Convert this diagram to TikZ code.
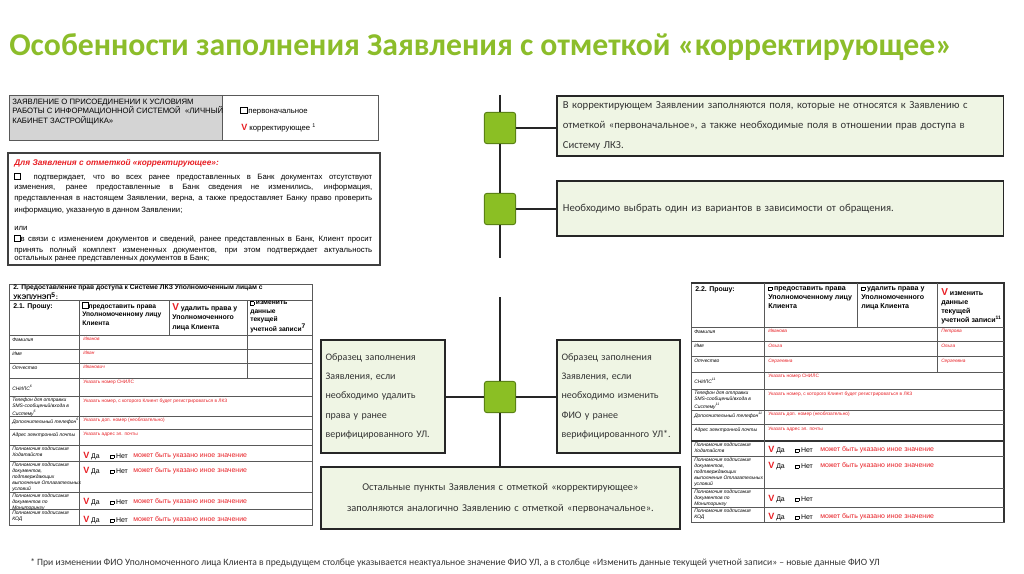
\documentclass[tikz,border=0pt]{standalone}
\usepackage{fontspec}
\setmainfont{Carlito}
\newfontfamily\formfont{Liberation Sans}
\usepackage{tikz}
\usetikzlibrary{positioning}
\definecolor{titlegreen}{RGB}{140,189,42}
\definecolor{squaregreen}{RGB}{139,191,36}
\definecolor{squareedge}{RGB}{90,130,20}
\definecolor{notefill}{RGB}{239,245,228}
\definecolor{formred}{RGB}{232,30,36}
\definecolor{formgrey}{RGB}{212,212,212}

\newcommand{\jline}[2]{\makebox[#1][s]{#2}}
\newcommand{\chk}[1]{{\fboxsep=0pt\fboxrule=0.35pt\fbox{\rule{0pt}{#1}\hspace{#1}}}}
\newcommand{\redv}{\textcolor{formred}{\bfseries V}}
\newcommand{\bigv}{\textcolor{formred}{\bfseries\fontsize{6.8}{6}\selectfont V}}

\begin{document}
\begin{tikzpicture}[x=0.75pt, y=-0.75pt,
    notebox/.style={draw=black!85, line width=1.3pt, fill=notefill, anchor=north west,
      inner xsep=3.5pt, inner ysep=0pt, align=left, text=black!80},
    greensq/.style={draw=squareedge, line width=0.7pt, fill=squaregreen,
      rounded corners=2pt, minimum size=23.5pt, inner sep=0pt},
    link/.style={line width=1.3pt, black!85},
    tabline/.style={black!65, line width=0.4pt},
    formtext/.style={font=\formfont\fontsize{5.8}{7.5}\selectfont, anchor=west, inner sep=0pt},
    headcell/.style={font=\formfont\bfseries\fontsize{5.2}{6.6}\selectfont, anchor=north west, align=left, inner sep=0pt},
    labcell/.style={font=\formfont\itshape\fontsize{3.7}{4.4}\selectfont, anchor=north west, align=left, inner sep=0pt},
    valcell/.style={font=\formfont\fontsize{3.6}{4.4}\selectfont, anchor=north west, inner sep=0pt, text=formred},
    yncell/.style={font=\formfont\fontsize{5.2}{6}\selectfont, anchor=west, inner sep=0pt}]
    \fill[white] (0,0) rectangle (1024,574);
    \useasboundingbox (0,0) rectangle (1024,574);

    % Title
    \node[anchor=west, inner sep=0pt, font=\bfseries\fontsize{23.8}{28}\selectfont, text=titlegreen] (title) at (9,47) {Особенности заполнения Заявления с отметкой «корректирующее»};

    % Form header
    \fill[formgrey] (9,95) rectangle (222,140);
    \draw[tabline] (9,95) rectangle (378,140);
    \draw[tabline] (222,95) -- (222,140);
    \node[font=\formfont\fontsize{5.8}{7.2}\selectfont, anchor=west, align=left, inner sep=0pt] (zhead) at (12,112) {ЗАЯВЛЕНИЕ О ПРИСОЕДИНЕНИИ К УСЛОВИЯМ\\РАБОТЫ С ИНФОРМАЦИОННОЙ СИСТЕМОЙ \ «ЛИЧНЫЙ\\КАБИНЕТ ЗАСТРОЙЩИКА»};
    \node[formtext] (zfirst) at (240,111) {\chk{4.5pt}\,первоначальное};
    \node[formtext] (zcorr) at (241,128) {\bigv\ корректирующее \textsuperscript{1}};

    % Form text block
    \draw[black!75, line width=1.1pt] (8,153) rectangle (380,265);
    \node[formtext, font=\formfont\bfseries\itshape\fontsize{6.2}{7}\selectfont, text=formred] (ftitle) at (14,163) {Для Заявления с отметкой «корректирующее»:};
    \node[formtext] (fl1) at (14,177) {\jline{268.5pt}{\chk{4pt}\ \ подтверждает, что во всех ранее предоставленных в Банк документах отсутствуют}};
    \node[formtext] (fl2) at (14,188) {\jline{268.5pt}{изменения, ранее предоставленные в Банк сведения не изменились, информация,}};
    \node[formtext] (fl3) at (14,199) {\jline{268.5pt}{представленная в настоящем Заявлении, верна, а также предоставляет Банку право проверить}};
    \node[formtext] (fl4) at (14,210) {информацию, указанную в данном Заявлении;};
    \node[formtext] (for) at (14,228) {или};
    \node[formtext] (fl5) at (14,239) {\jline{268.5pt}{\chk{4pt}в связи с изменением документов и сведений, ранее представленных в Банк, Клиент просит}};
    \node[formtext] (fl6) at (14,250) {\jline{268.5pt}{принять полный комплект измененных документов, при этом подтверждает актуальность}};
    \node[formtext] (fl7) at (14,259) {остальных ранее представленных документов в Банк;};

    % Left table
    \draw[tabline] (9,284) rectangle (312,525);
    \foreach \y in {300,335,349,363,378,396,416,429,445,461,492,509}
        \draw[tabline] (9,\y) -- (312,\y);
    \draw[tabline] (79,300) -- (79,525);
    \draw[tabline] (169,300) -- (169,335);
    \draw[tabline] (247,300) -- (247,378);
    \node[headcell, font=\formfont\bfseries\fontsize{5}{6}\selectfont] (Lhead) at (13,285) {2. Предоставление прав доступа к Системе ЛКЗ Уполномоченным лицам с\\УКЭП/УНЭП\textsuperscript{5}:};
    \node[headcell] (Lask) at (13,303) {2.1. Прошу:};
    \node[headcell, font=\formfont\bfseries\fontsize{5}{6.6}\selectfont] (Lgive) at (82,302) {\chk{4pt}предоставить права\\Уполномоченному лицу\\Клиента};
    \node[headcell, font=\formfont\bfseries\fontsize{5.2}{7.2}\selectfont] (Ldel) at (172,303) {{\color{formred}\fontsize{7.5}{7}\selectfont V}\ удалить права у\\Уполномоченного\\лица Клиента};
    \node[headcell, font=\formfont\bfseries\fontsize{5}{6.2}\selectfont] (Lchg) at (250,301) {\chk{2.2pt} изменить\\данные\\текущей\\учетной записи\textsuperscript{7}};
    \foreach \y/\lab [count=\i] in {338/Фамилия, 352/Имя, 366/Отчество, 385/{СНИЛС\textsuperscript{6}},
        398/{Телефон для отправки\\SMS-сообщений/входа в\\Систему\textsuperscript{6}}, 418/{Дополнительный телефон\textsuperscript{6}},
        433/{Адрес электронной почты}, 447/{Полномочия подписания\\Ходатайств},
        463/{Полномочия подписания\\документов,\\подтверждающих\\выполнение Отлагательных\\условий},
        494/{Полномочия подписания\\документов по\\Мониторингу}, 511/{Полномочия подписания\\КОД}}
        \node[labcell] (Llab\i) at (12,\y) {\lab};
    \foreach \y/\val [count=\i] in {337/{\itshape Иванов}, 351/{\itshape Иван}, 365/{\itshape Иванович},
        380/{Указать номер СНИЛС}, 399/{Указать номер, с которого Клиент будет регистрироваться в ЛКЗ},
        418/{Указать доп. номер (необязательно)}, 432/{Указать адрес эл. почты}}
        \node[valcell] (Lval\i) at (83,\y) {\val};
    \foreach \y [count=\i] in {456,471,502,520} {
        \node[yncell] (Lyes\i) at (83,\y) {\bigv\ Да};
        \node[yncell] (Lno\i) at (110,\y) {\chk{2.2pt}\ Нет};
        \node[yncell, text=formred] (Lmay\i) at (133,\y) {может быть указано иное значение};
    }

    % Right table
    \draw[tabline] (691,283) rectangle (1004,522);
    \draw[black!80, line width=0.9pt] (691,283) -- (1004,283) -- (1004,522);
    \foreach \y in {327,341,356,372,389,410,424,456,488,507}
        \draw[tabline] (691,\y) -- (1004,\y);
    \draw[black!80, line width=0.9pt] (691,441) -- (1004,441);
    \draw[tabline] (764,283) -- (764,522);
    \draw[tabline] (857,283) -- (857,327);
    \draw[tabline] (937,283) -- (937,372);
    \node[headcell] (Rask) at (695,286) {2.2. Прошу:};
    \node[headcell, font=\formfont\bfseries\fontsize{5.3}{6.8}\selectfont] (Rgive) at (768,286) {\chk{2.2pt} предоставить права\\Уполномоченному лицу\\Клиента};
    \node[headcell, font=\formfont\bfseries\fontsize{5.3}{6.8}\selectfont] (Rdel) at (861,286) {\chk{2.2pt} удалить права у\\Уполномоченного\\лица Клиента};
    \node[headcell, font=\formfont\bfseries\fontsize{5.3}{6.8}\selectfont] (Rchg) at (941,288) {{\color{formred}\fontsize{7.5}{7}\selectfont V} изменить\\данные\\текущей\\учетной записи\textsuperscript{11}};
    \foreach \y/\lab [count=\i] in {330/Фамилия, 344/Имя, 359/Отчество, 378/{СНИЛС\textsuperscript{11}},
        391/{Телефон для отправки\\SMS-сообщений/входа в\\Систему\textsuperscript{11}}, 412/{Дополнительный телефон\textsuperscript{11}},
        428/{Адрес электронной почты}, 443/{Полномочия подписания\\Ходатайств},
        458/{Полномочия подписания\\документов,\\подтверждающих\\выполнение Отлагательных\\условий},
        490/{Полномочия подписания\\документов по\\Мониторингу}, 509/{Полномочия подписания\\КОД}}
        \node[labcell] (Rlab\i) at (694,\y) {\lab};
    \foreach \y/\val/\newval [count=\i] in {329/Иванова/Петрова, 344/Ольга/Ольга, 359/Сергеевна/Сергеевна} {
        \node[valcell, font=\formfont\itshape\fontsize{3.6}{4.4}\selectfont] (Rval\i) at (768,\y) {\val};
        \node[valcell, font=\formfont\itshape\fontsize{3.6}{4.4}\selectfont] (Rnew\i) at (941,\y) {\newval};
    }
    \foreach \y/\val [count=\i] in {374/{Указать номер СНИЛС}, 392/{Указать номер, с которого Клиент будет регистрироваться в ЛКЗ},
        412/{Указать доп. номер (необязательно)}, 427/{Указать адрес эл. почты}}
        \node[valcell] (Rtxt\i) at (768,\y) {\val};
    \foreach \y/\txt [count=\i] in {450/{может быть указано иное значение}, 466/{может быть указано иное значение},
        499/{}, 517/{может быть указано иное значение}} {
        \node[yncell] (Ryes\i) at (768,\y) {\bigv\ Да};
        \node[yncell] (Rno\i) at (795,\y) {\chk{2.2pt}\ Нет};
        \node[yncell, text=formred] (Rmay\i) at (820,\y) {\txt};
    }

    % Top branch
    \node[notebox, inner xsep=4.5pt, minimum width=335pt, minimum height=45pt, text width=326pt,
        font=\fontsize{8}{15}\selectfont] (b1) at (556,95)
        {\jline{326pt}{В корректирующем Заявлении заполняются поля, которые не относятся к Заявлению с}\\
         \jline{326pt}{отметкой «первоначальное», а также необходимые поля в отношении прав доступа в}\\
         Систему ЛКЗ.};
    \node[notebox, inner xsep=4.5pt, minimum width=335pt, minimum height=41.25pt, text width=326pt,
        font=\fontsize{8}{15}\selectfont] (b2) at (556,180)
        {Необходимо выбрать один из вариантов в зависимости от обращения.};
    \node[greensq] (sq1) at (500,128) {};
    \node[greensq] (sq2) at (500,209) {};
    \coordinate (vtop) at (500,95);
    \coordinate (vbot) at (500,258);
    \draw[link] (vtop) -- (sq1) -- (sq2) -- (vbot);
    \draw[link] (sq1.east) -- (b1.west |- sq1.east);
    \draw[link] (sq2.east) -- (b2.west |- sq2.east);

    % Center branch
    \node[notebox, minimum width=93pt, minimum height=84.75pt, text width=86pt,
        font=\fontsize{7.5}{14.4}\selectfont] (lbox) at (320,339)
        {Образец заполнения\\Заявления, если\\необходимо удалить\\права у ранее\\верифицированного УЛ.};
    \node[notebox, minimum width=92.25pt, minimum height=84.75pt, text width=85.25pt,
        font=\fontsize{7.5}{14.4}\selectfont] (rbox) at (556,339)
        {Образец заполнения\\Заявления, если\\необходимо изменить\\ФИО у ранее\\верифицированного УЛ*.};
    \node[notebox, minimum width=269.25pt, minimum height=46.5pt, text width=262pt, align=center,
        font=\fontsize{7.8}{15.75}\selectfont] (bbox) at (320,466)
        {Остальные пункты Заявления с отметкой «корректирующее»\\заполняются аналогично Заявлению с отметкой «первоначальное».};
    \node[greensq] (sq3) at (500,397) {};
    \coordinate (ctop) at (500,297);
    \draw[link] (ctop) -- (sq3) -- (sq3 |- bbox.north);
    \draw[link] (lbox.east |- sq3) -- (sq3) -- (rbox.west |- sq3);

    % Footnote
    \node[anchor=west, inner sep=0pt, font=\fontsize{7.2}{9}\selectfont, text=black!80] (fnote) at (30,563) {* При изменении ФИО Уполномоченного лица Клиента в предыдущем столбце указывается неактуальное значение ФИО УЛ, а в столбце «Изменить данные текущей учетной записи» – новые данные ФИО УЛ};
\end{tikzpicture}
\end{document}
